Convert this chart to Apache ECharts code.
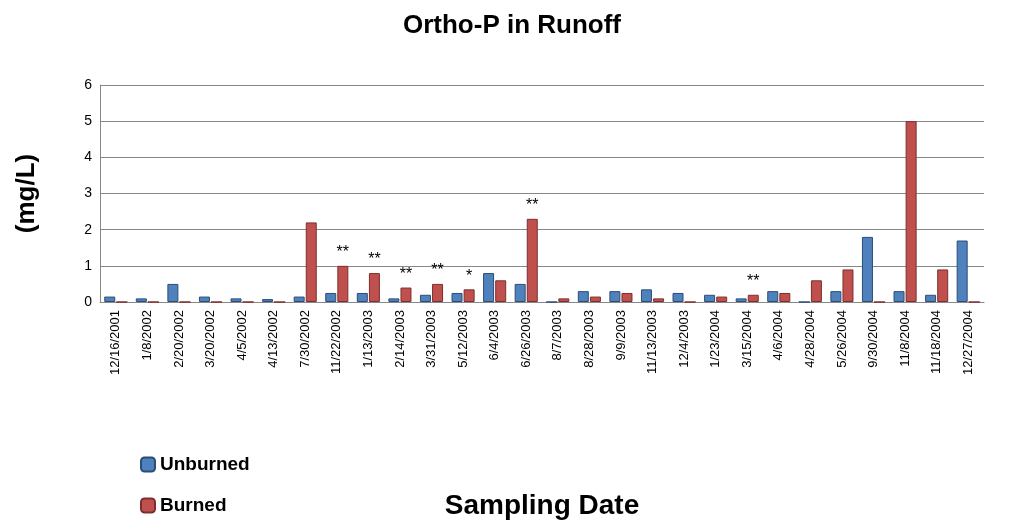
<!DOCTYPE html>
<html><head><meta charset="utf-8">
<script src="https://cdn.jsdelivr.net/npm/echarts@6/dist/echarts.min.js"></script>
<style>html,body{margin:0;padding:0;background:#fff}#c{width:1024px;height:527px}</style>
</head><body><div id="c"></div>
<script>
var categories=["12/16/2001","1/8/2002","2/20/2002","3/20/2002","4/5/2002","4/13/2002","7/30/2002","11/22/2002","1/13/2003","2/14/2003","3/31/2003","5/12/2003","6/4/2003","6/26/2003","8/7/2003","8/28/2003","9/9/2003","11/13/2003","12/4/2003","1/23/2004","3/15/2004","4/6/2004","4/28/2004","5/26/2004","9/30/2004","11/8/2004","11/18/2004","12/27/2004"];
var unburned=[0.15,0.1,0.5,0.15,0.1,0.08,0.15,0.25,0.25,0.1,0.2,0.25,0.8,0.5,0,0.3,0.3,0.35,0.25,0.2,0.1,0.3,0,0.3,1.8,0.3,0.2,1.7];
var burned=[0,0,0,0,0,0,2.2,1.0,0.8,0.4,0.5,0.35,0.6,2.3,0.1,0.15,0.25,0.1,0,0.15,0.2,0.25,0.6,0.9,0,5.0,0.9,0];
var notes=["","","","","","","","**","**","**","**","*","","**","","","","","","","**","","","","","","",""];
var chart=echarts.init(document.getElementById('c'));
chart.setOption({
 title:{text:"Ortho-P in Runoff",left:'center',top:8,textStyle:{fontSize:26,fontWeight:'bold',color:'#000',fontFamily:'Liberation Sans'}},
 legend:{orient:'vertical',left:135,top:450,itemGap:22,itemWidth:14,itemHeight:14,textStyle:{fontSize:19,fontWeight:'bold',color:'#000'},data:['Unburned','Burned']},
 grid:{left:100,right:40,top:85,bottom:225},
 xAxis:{type:'category',data:categories,name:'Sampling Date',nameLocation:'middle',nameGap:190,
   nameTextStyle:{fontSize:28,fontWeight:'bold',color:'#000'},
   axisLabel:{rotate:90,interval:0,fontSize:13,color:'#000'},axisTick:{show:false},axisLine:{lineStyle:{color:'#888'}}},
 yAxis:{type:'value',min:0,max:6,interval:1,name:'(mg/L)',nameLocation:'middle',nameGap:60,
   nameTextStyle:{fontSize:26,fontWeight:'bold',color:'#000'},axisLabel:{fontSize:14,color:'#000'},
   splitLine:{lineStyle:{color:'#888'}},axisLine:{show:true,lineStyle:{color:'#888'}}},
 series:[
  {name:'Unburned',type:'bar',data:unburned,barWidth:11,itemStyle:{color:'#4F81BD',borderColor:'#2c4d75',borderWidth:1}},
  {name:'Burned',type:'bar',data:burned,barWidth:11,itemStyle:{color:'#C0504D',borderColor:'#7d2f2d',borderWidth:1},
   label:{show:true,position:'top',fontSize:16,color:'#000',formatter:function(p){return notes[p.dataIndex];}}}
 ]
});
</script></body></html>
